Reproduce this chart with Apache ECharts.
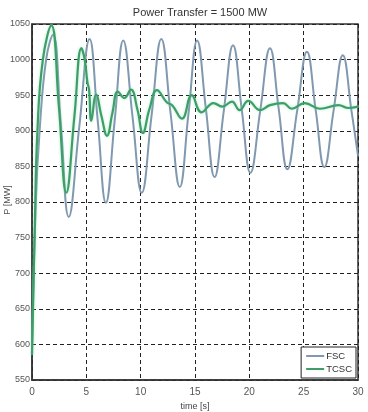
<!DOCTYPE html>
<html>
<head>
<meta charset="utf-8">
<script src="https://cdn.jsdelivr.net/npm/echarts@6/dist/echarts.min.js"></script>
<style>
  html, body { margin: 0; padding: 0; background: #fff; }
  #chart { width: 368px; height: 412px; }
</style>
</head>
<body>
<div id="chart"></div>
<script>
// values
const xTicks = [0, 5, 10, 15, 20, 25, 30];
const yTicks = [550, 600, 650, 700, 750, 800, 850, 900, 950, 1000, 1050];

const tFsc = [0, 0.35, 0.7, 1.3, 1.93, 2.65, 3.38, 4.34, 5.3, 6.05, 6.8, 7.6, 8.4, 9.25, 10.1, 11.0, 11.9,
  12.75, 13.6, 14.4, 15.2, 16.0, 16.8, 17.65, 18.5, 19.3, 20.1, 21.0, 21.9, 22.7, 23.5, 24.4, 25.3,
  26.1, 26.9, 27.75, 28.6, 29.4, 30];
const pFsc = [590, 800, 900, 1000, 1035, 910, 779, 904, 1029, 914, 799, 913, 1027, 920, 813, 921, 1029,
  925, 821, 924, 1027, 931, 835, 928, 1020, 930, 841, 928, 1016, 931, 846, 928, 1011,
  930, 849, 928, 1006, 928, 865];

const tTcsc = [0, 0.25, 0.5, 1.0, 1.78, 2.47, 3.16, 3.9, 4.55, 4.85, 5.1, 5.25, 5.46, 5.9, 6.4, 6.9, 7.4,
  7.9, 8.5, 9.1, 9.7, 10.2, 10.8, 11.5, 12.4, 12.9, 13.8, 14.7, 15.6, 16.7, 17.5, 18.4, 19.1, 19.9,
  21.0, 21.9, 23.1, 23.9, 25.1, 26.5, 28.2, 29.1, 30];
const pTcsc = [585, 760, 900, 1000, 1048, 935, 813, 920, 1016, 1000, 968, 958, 914, 951, 920, 893, 925,
  955, 946, 958, 930, 897, 930, 957, 940, 936, 917, 950, 926, 939, 934, 941, 929, 942,
  929, 936, 939, 931, 939, 931, 936, 932, 934];

const seriesNames = ['FSC', 'TCSC'];

const chart = echarts.init(document.getElementById('chart'));
const font = 'Liberation Sans, Arial, sans-serif';
const grid = { color: '#222', width: 1, type: [4, 3] };

chart.setOption({
  animation: false,
  backgroundColor: '#fff',
  textStyle: { fontFamily: font },
  title: {
    text: 'Power Transfer = 1500 MW',
    left: 195, top: 2, textAlign: 'center',
    textStyle: { fontSize: 11, fontWeight: 'normal', color: '#333', fontFamily: font }
  },
  // y axis title, drawn as rotated text left of the tick labels
  graphic: [{
    type: 'text', x: 8, y: 200, rotation: Math.PI / 2,
    style: { text: 'P [MW]', fontSize: 9, fill: '#555', fontFamily: font, align: 'center', verticalAlign: 'middle' }
  }],
  grid: {
    left: 32, right: 10, top: 24, bottom: 32,
    outerBoundsMode: 'none', containLabel: false,
    show: true, borderColor: '#333', borderWidth: 1.5, backgroundColor: '#fff'
  },
  legend: {
    data: seriesNames,
    orient: 'vertical',
    right: 12, bottom: 34,
    backgroundColor: '#fff',
    borderColor: '#222', borderWidth: 1,
    padding: [4, 4, 4, 5],
    itemGap: 3, itemWidth: 18, itemHeight: 2,
    icon: 'rect',
    textStyle: { fontSize: 9.5, color: '#333', padding: [0, 0, 0, -3] }
  },
  xAxis: {
    type: 'value', min: 0, max: 30, interval: 5,
    name: 'time [s]', nameLocation: 'middle', nameGap: 20,
    nameTextStyle: { fontSize: 9, color: '#444' },
    axisLine: { show: true, lineStyle: { color: '#333', width: 1.5 } },
    axisTick: { show: false },
    axisLabel: { fontSize: 10, color: '#555', margin: 7, customValues: xTicks },
    splitLine: { show: true, lineStyle: grid }
  },
  yAxis: {
    type: 'value', min: 550, max: 1050, interval: 50,
    axisLine: { show: true, lineStyle: { color: '#333', width: 1.5 } },
    axisTick: { show: false },
    axisLabel: { fontSize: 9, color: '#555', margin: 2, formatter: v => String(v), customValues: yTicks },
    splitLine: { show: true, lineStyle: grid }
  },
  series: [
    {
      name: seriesNames[0], type: 'line', smooth: 0.45, showSymbol: false,
      data: tFsc.map((t, i) => [t, pFsc[i]]),
      itemStyle: { color: '#8199b0' },
      lineStyle: { color: '#8199b0', width: 2 },
      z: 2
    },
    {
      name: seriesNames[1], type: 'line', smooth: 0.45, showSymbol: false,
      data: tTcsc.map((t, i) => [t, pTcsc[i]]),
      itemStyle: { color: '#3f9e68' },
      lineStyle: { color: '#3f9e68', width: 2.2, shadowColor: 'rgba(120,220,170,0.6)', shadowBlur: 3 },
      z: 3
    }
  ]
});
</script>
</body>
</html>
